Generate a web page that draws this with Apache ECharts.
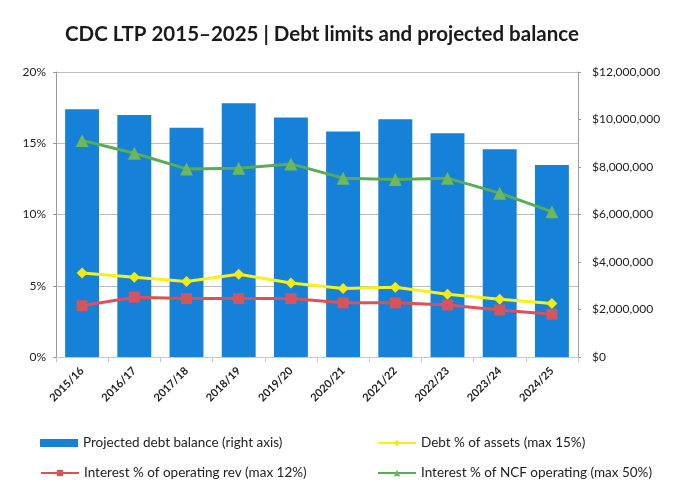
<!DOCTYPE html>
<html>
<head>
<meta charset="utf-8">
<script src="https://cdn.jsdelivr.net/npm/echarts@6/dist/echarts.min.js"></script>
<style>
  html, body { margin: 0; padding: 0; background: #fff; }
  #chart { width: 676px; height: 490px; }
</style>
</head>
<body>
<div id="chart"></div>
<script>
// Financial years
const years = ['2015/16', '2016/17', '2017/18', '2018/19', '2019/20', '2020/21', '2021/22', '2022/23', '2023/24', '2024/25'];
// Projected debt balance ($, right axis)
const debtBalance = [10430000, 10190000, 9650000, 10680000, 10080000, 9490000, 10010000, 9420000, 8750000, 8080000];
// Debt as % of assets (max 15%)
const debtPctAssets = [5.9, 5.6, 5.3, 5.8, 5.2, 4.8, 4.9, 4.4, 4.05, 3.75];
// Interest as % of operating revenue (max 12%)
const interestPctRev = [3.6, 4.2, 4.1, 4.1, 4.1, 3.8, 3.8, 3.65, 3.3, 3.0];
// Interest as % of NCF operating (max 50%)
const interestPctNcf = [15.2, 14.3, 13.2, 13.25, 13.55, 12.55, 12.45, 12.55, 11.5, 10.2];
// Axis tick settings
const leftMax = 20, leftStep = 5;
const rightMax = 12000000, rightStep = 2000000;

const FONT = 'Lato, "Open Sans", sans-serif';
const names = {
  bar: 'Projected debt balance (right axis)',
  assets: 'Debt % of assets (max 15%)',
  rev: 'Interest % of operating rev (max 12%)',
  ncf: 'Interest % of NCF operating (max 50%)'
};

function fmtMoney(v) {
  return '$' + v.toString().replace(/\B(?=(\d{3})+(?!\d))/g, ',');
}

const legendBase = {
  itemWidth: 38, itemHeight: 8, padding: 0,
  textStyle: { fontFamily: FONT, fontSize: 13.5, color: '#222' },
  itemGap: 4
};

const chart = echarts.init(document.getElementById('chart'));
chart.setOption({
  animation: false,
  backgroundColor: '#ffffff',
  title: {
    text: 'CDC LTP 2015\u20132025 | Debt limits and projected balance',
    left: 60, top: 19,
    textStyle: { fontFamily: FONT, fontSize: 20.5, fontWeight: 'bold', color: '#1a1a1a' }
  },
  grid: { left: 56, right: 98, top: 72, bottom: 133, containLabel: false },
  legend: [
    Object.assign({}, legendBase, { data: [{ name: names.bar, icon: 'rect' }], left: 40, top: 436 }),
    Object.assign({}, legendBase, { data: [names.assets], left: 377, top: 436 }),
    Object.assign({}, legendBase, { data: [names.rev], left: 40, top: 466 }),
    Object.assign({}, legendBase, { data: [names.ncf], left: 377, top: 466 })
  ],
  xAxis: {
    type: 'category',
    data: years,
    axisLine: { lineStyle: { color: '#c8c8c8' } },
    axisTick: { show: true, alignWithLabel: false, lineStyle: { color: '#c8c8c8' } },
    axisLabel: {
      rotate: 45, margin: 12, interval: 0,
      fontFamily: FONT, fontSize: 11, fontWeight: 'bold', color: '#222'
    }
  },
  yAxis: [
    {
      type: 'value', min: 0, max: leftMax, interval: leftStep,
      axisLine: { show: true, lineStyle: { color: '#9a9a9a' } },
      axisTick: { show: true, length: 3, lineStyle: { color: '#9a9a9a' } },
      splitLine: { show: true, lineStyle: { color: '#bdbdbd', width: 1 } },
      axisLabel: { formatter: '{value}%', margin: 10, fontFamily: FONT, fontSize: 12, color: '#222' }
    },
    {
      type: 'value', min: 0, max: rightMax, interval: rightStep,
      axisLine: { show: true, lineStyle: { color: '#9a9a9a' } },
      axisTick: { show: true, length: 3, lineStyle: { color: '#9a9a9a' } },
      splitLine: { show: false },
      axisLabel: { formatter: fmtMoney, margin: 14, fontFamily: FONT, fontSize: 12, color: '#222' }
    }
  ],
  series: [
    {
      name: names.bar, type: 'bar', yAxisIndex: 1, data: debtBalance,
      barCategoryGap: '35%', z: 1,
      itemStyle: { color: '#1681d8' }
    },
    {
      name: names.assets, type: 'line', yAxisIndex: 0, data: debtPctAssets,
      symbol: 'diamond', symbolSize: 11, z: 3,
      lineStyle: { color: '#f6f21a', width: 3 },
      itemStyle: { color: '#f2ea10' }
    },
    {
      name: names.rev, type: 'line', yAxisIndex: 0, data: interestPctRev,
      symbol: 'rect', symbolSize: 11, z: 3,
      lineStyle: { color: '#dc5158', width: 3 },
      itemStyle: { color: '#d5555d' }
    },
    {
      name: names.ncf, type: 'line', yAxisIndex: 0, data: interestPctNcf,
      symbol: 'triangle', symbolSize: 13, z: 3,
      lineStyle: { color: '#5aac52', width: 3 },
      itemStyle: { color: '#6cb85a' }
    }
  ]
});
</script>
</body>
</html>
